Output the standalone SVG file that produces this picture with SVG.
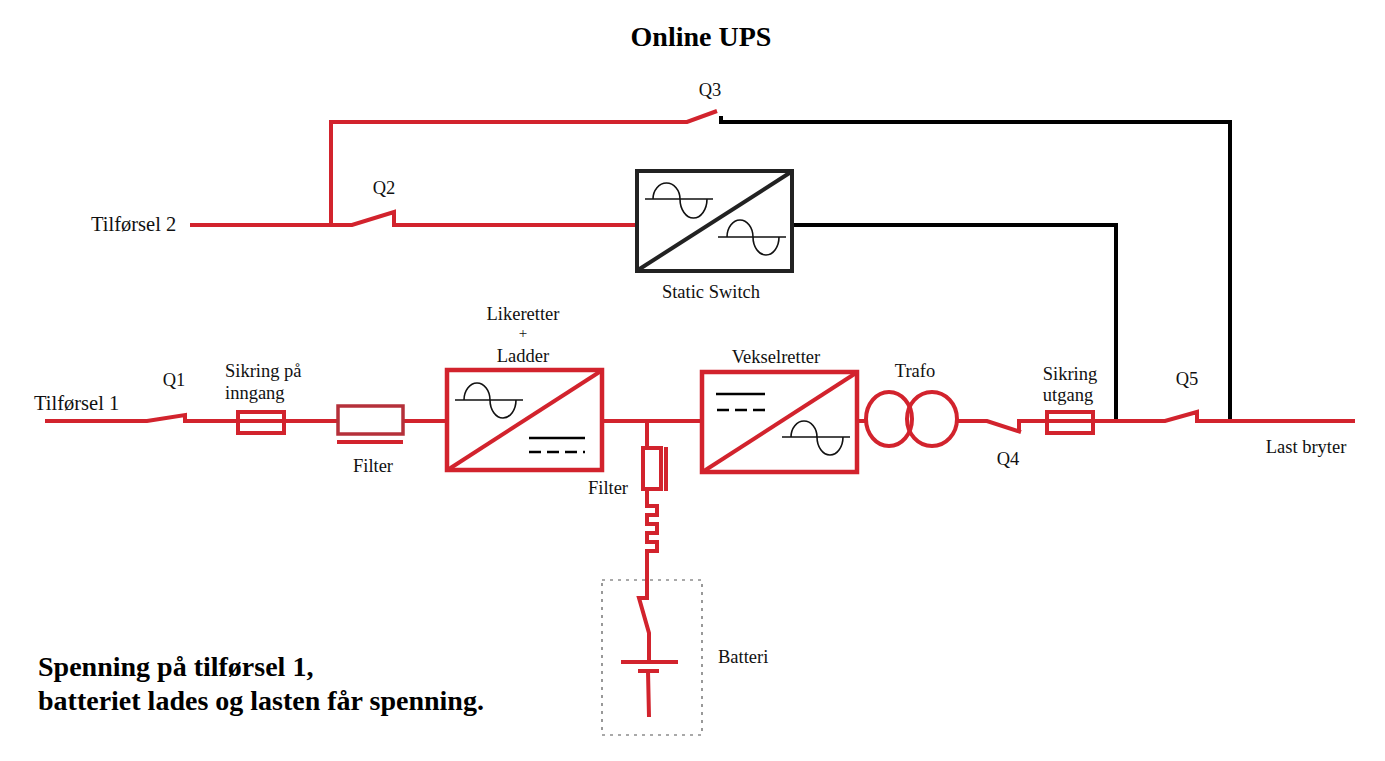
<svg xmlns="http://www.w3.org/2000/svg" width="1385" height="761" viewBox="0 0 1385 761">
<style>
text{font-family:"Liberation Serif","Times New Roman",serif;fill:#111;font-size:18.5px}
.m{text-anchor:middle}
.b{font-weight:bold;font-size:28px;fill:#000}
.r{fill:none;stroke:#d2232d;stroke-width:4;stroke-linejoin:miter}
.k{fill:none;stroke:#000;stroke-width:4}
.box{fill:#fff;stroke:#d2232d;stroke-width:4.5}
.bx{fill:#fff;stroke:#222;stroke-width:4}
.t{fill:none;stroke:#111;stroke-width:1.6}
.dc{fill:none;stroke:#000;stroke-width:2.6}
.big{font-size:20.5px}
</style>
<rect width="1385" height="761" fill="#fff"/>
<g id="connectors">
<path class="k" d="M721 116V122H1230V421M793 225H1116V421"/>
<path class="r" d="M45 421H147L185 415V421H237"/>
<path class="r" d="M285 421H337M403 421H447M602 421H702M857 421H866M958 421H987L1021 432M1019 432V421H1046M1093 421H1165L1197 412V421H1355"/>
<path class="r" d="M190 225H352L394 212V225H636M331 225V122H687L717 111"/>
<path class="r" d="M647 421V447M647 489V506H657V515H647V524H657V533H647V542H657V551H647V598H639L649 633V662M621 662H678M638 671H659M648 671L649 717"/>
</g>
<g id="title"><text class="b m" x="701" y="46">Online UPS</text></g>
<g id="q1"><text class="m" x="174" y="386">Q1</text></g>
<g id="q2"><text class="m" x="384" y="194">Q2</text></g>
<g id="q3"><text class="m" x="710" y="96">Q3</text></g>
<g id="q4"><text class="m" x="1008" y="465">Q4</text></g>
<g id="q5"><text class="m" x="1187" y="385">Q5</text></g>
<g id="supply1"><text class="big" x="34" y="410">Tilførsel 1</text></g>
<g id="supply2"><text class="big" x="91" y="231">Tilførsel 2</text></g>
<g id="fuse-in">
<rect x="238" y="412" width="46" height="21" fill="none" stroke="#d2232d" stroke-width="4"/>
<path class="r" d="M238 421H284"/>
<text x="225" y="377">Sikring på</text><text x="225" y="399">inngang</text>
</g>
<g id="filter-in">
<rect x="338" y="406" width="65" height="28" fill="#fff" stroke="#b5303a" stroke-width="3.5"/>
<path class="r" d="M337 442H403"/>
<text class="m" x="373" y="472">Filter</text>
</g>
<g id="rectifier">
<rect class="box" x="447" y="370" width="155" height="100"/>
<path class="r" d="M449 469L601 371"/>
<path class="t" d="M455 400H523M464 400A13 17 0 0 1 490 400A13 18 0 0 0 516 400"/>
<path class="dc" d="M529 438H585"/><path class="dc" stroke-dasharray="12 6" d="M529 452H585"/>
<text class="m" x="523" y="319.500">Likeretter</text><text class="m" x="523" y="338" style="font-size:15px">+</text><text class="m" x="523" y="362">Ladder</text>
</g>
<g id="inverter">
<rect class="box" x="702" y="372" width="155" height="100"/>
<path class="r" d="M704 471L856 373"/>
<path class="dc" d="M716 394H765"/><path class="dc" stroke-dasharray="12 6" d="M717 410H766"/>
<path class="t" d="M782 437H850M791 437A13 16 0 0 1 817 437A13 18 0 0 0 843 437"/>
<text class="m" x="776" y="363">Vekselretter</text>
</g>
<g id="static-switch">
<rect class="bx" x="637" y="171" width="155" height="100"/>
<path fill="none" stroke="#222" stroke-width="4" d="M638 270L791 172"/>
<path class="t" d="M645 199H713M653 199A13.500 16 0 0 1 680 199A13.500 19 0 0 0 707 199"/>
<path class="t" d="M718 237H786M727 237A13 17 0 0 1 753 237A13 18 0 0 0 779 237"/>
<text class="m" x="711" y="298">Static Switch</text>
</g>
<g id="trafo">
<ellipse cx="889" cy="419" rx="23" ry="27" fill="none" stroke="#d2232d" stroke-width="4"/>
<ellipse cx="932" cy="419" rx="25" ry="27" fill="none" stroke="#d2232d" stroke-width="4"/>
<text class="m" x="915" y="377">Trafo</text>
</g>
<g id="fuse-out">
<rect x="1047" y="412" width="46" height="21" fill="none" stroke="#d2232d" stroke-width="4"/>
<path class="r" d="M1047 421H1093"/>
<text class="m" x="1070" y="380">Sikring</text><text class="m" x="1068" y="401">utgang</text>
</g>
<g id="load"><text class="m" x="1306" y="453">Last bryter</text></g>
<g id="filter-bat">
<rect x="643" y="448" width="18" height="41" fill="#fff" stroke="#d2232d" stroke-width="4"/>
<path class="r" d="M666 447V491"/>
<text class="m" x="608" y="494">Filter</text>
</g>
<g id="battery">
<rect x="602" y="580" width="100" height="155" fill="none" stroke="#555" stroke-width="1.2" stroke-dasharray="3 5"/>
<text x="718" y="663">Batteri</text>
</g>
<g id="note">
<text class="b" x="38" y="676">Spenning på tilførsel 1,</text>
<text class="b" x="38" y="710">batteriet lades og lasten får spenning.</text>
</g>
</svg>
